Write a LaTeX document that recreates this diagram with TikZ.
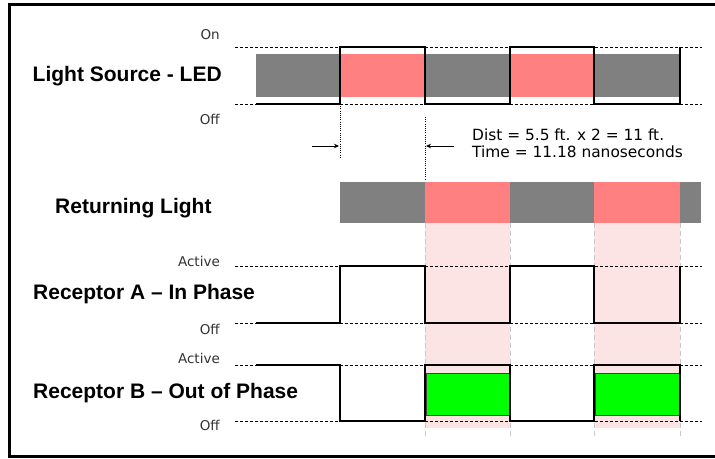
\documentclass[tikz,border=0pt]{standalone}
\usepackage{fontspec}
\setmainfont{Liberation Sans}
\newfontfamily\verd{DejaVu Sans}
\usetikzlibrary{arrows.meta}
\definecolor{sgray}{HTML}{808080}
\definecolor{spink}{HTML}{FF8080}
\definecolor{lpink}{HTML}{FDE4E4}
\definecolor{sgreen}{HTML}{00FF00}
\definecolor{bandline}{HTML}{C8C8C8}
\begin{document}
\begin{tikzpicture}[x=1pt,y=-1pt,
  sig/.style={line width=2.5pt, line join=miter},
  lvl/.style={dash pattern=on 3pt off 2pt, line width=0.7pt},
  guide/.style={dash pattern=on 1pt off 1.2pt, line width=0.9pt},
  bandedge/.style={draw=bandline, dash pattern=on 5pt off 3pt, line width=0.8pt},
  arr/.style={-{Stealth[length=5pt,width=4.5pt]}, line width=0.8pt},
  big/.style={font=\fontsize{21}{21}\selectfont\bfseries, anchor=base west, inner sep=0pt},
  small/.style={font=\verd\fontsize{13.5}{13.5}\selectfont, text=black!80, anchor=base east, inner sep=0pt},
  note/.style={font=\verd\fontsize{15.4}{15.4}\selectfont, anchor=base west, inner sep=0pt},
]
\useasboundingbox (0,0) rectangle (715,458);
\fill[white] (0,0) rectangle (715,458);

% frame
\draw[line width=2.8pt] (720,4.5) -- (9.5,4.5) -- (9.5,456.5) -- (720,456.5);

% light pink bands
\fill[lpink] (425,223) rectangle (510,428);
\fill[lpink] (594,223) rectangle (680,428);
\foreach \x in {425,510,594,680} \draw[bandedge] (\x,223) -- (\x,436);

% LED bar
\fill[sgray] (256,54) rectangle (340,97);
\fill[spink] (340,54) rectangle (425,97);
\fill[sgray] (425,54) rectangle (510,97);
\fill[spink] (510,54) rectangle (594,97);
\fill[sgray] (594,54) rectangle (680,97);

% returning bar
\fill[sgray] (340,182) rectangle (425,223);
\fill[spink] (425,182) rectangle (510,223);
\fill[sgray] (510,182) rectangle (594,223);
\fill[spink] (594,182) rectangle (680,223);
\fill[sgray] (680,182) rectangle (701,223);

% green blocks
\filldraw[fill=sgreen, draw=black!75, line width=0.8pt] (426,373) rectangle (509,415);
\filldraw[fill=sgreen, draw=black!75, line width=0.8pt] (595,373) rectangle (679,415);

% level lines
\foreach \y in {47,104,266,323,365,421} \draw[lvl] (235,\y) -- (702,\y);

% signals
\draw[sig] (256,104) -- (340,104) -- (340,47) -- (425,47) -- (425,104) -- (510,104) -- (510,47) -- (594,47) -- (594,104) -- (680,104) -- (680,47);
\draw[sig] (256,323) -- (340,323) -- (340,266) -- (425,266) -- (425,323) -- (510,323) -- (510,266) -- (594,266) -- (594,323) -- (680,323) -- (680,266);
\draw[sig] (256,365) -- (340,365) -- (340,421) -- (425,421) -- (425,365) -- (510,365) -- (510,421) -- (594,421) -- (594,365) -- (680,365) -- (680,421);

% delay guides
\coordinate (g1top) at (340,104);
\coordinate (g1bot) at (340,158);
\coordinate (g2top) at (425,117);
\coordinate (g2bot) at (425,180);
\draw[guide] (g1top) -- (g1bot);
\draw[guide] (g2top) -- (g2bot);
\coordinate (a1s) at (312,146);
\coordinate (a1e) at (339,146);
\coordinate (a2s) at (454,146);
\coordinate (a2e) at (426,146);
\draw[arr] (a1s) -- (a1e);
\draw[arr] (a2s) -- (a2e);

% texts
\node[note] (dist) at (472,140) {Dist = 5.5 ft. x 2 = 11 ft.};
\node[note] (time) at (472,157.5) {Time = 11.18 nanoseconds};

\node[big] (led) at (32.5,81) {Light Source - LED};
\node[big] (ret) at (55,213) {Returning Light};
\node[big] (reca) at (33,299) {Receptor A – In Phase};
\node[big] (recb) at (33,398.7) {Receptor B – Out of Phase};

\node[small] (on) at (220,39.5) {On};
\node[small] (off1) at (220,124) {Off};
\node[small] (act1) at (220,266) {Active};
\node[small] (off2) at (220,334) {Off};
\node[small] (act2) at (220,363) {Active};
\node[small] (off3) at (220,430) {Off};
\end{tikzpicture}
\end{document}
